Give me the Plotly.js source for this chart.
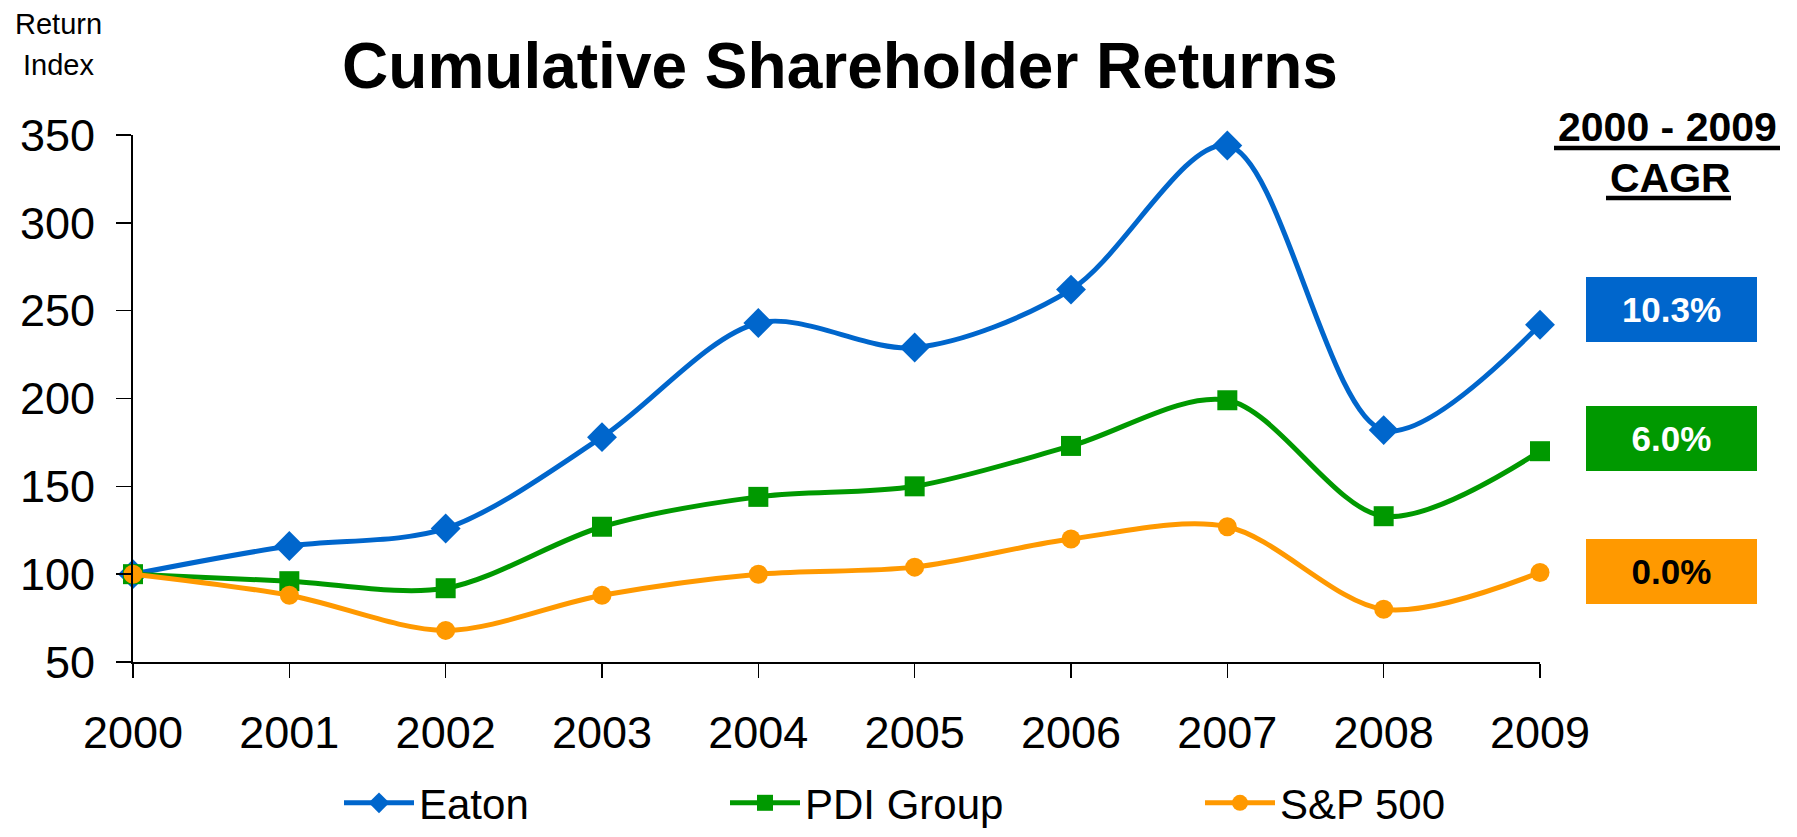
<!DOCTYPE html>
<html>
<head>
<meta charset="utf-8">
<script src="https://cdn.plot.ly/plotly-3.0.1.min.js"></script>
<style>
  html, body { margin: 0; padding: 0; background: #ffffff; }
  #chart { width: 1797px; height: 837px; }
</style>
</head>
<body>
<div id="chart"></div>
<script>
// ---- Data ----
const years = [2000, 2001, 2002, 2003, 2004, 2005, 2006, 2007, 2008, 2009];
const eaton = [100, 116, 126, 178, 243, 229, 262, 344, 182, 242];
const pdiGroup = [100, 96, 92, 127, 144, 150, 173, 199, 133, 170];
const sp500 = [100, 88, 68, 88, 100, 104, 120, 127, 80, 101];

const seriesNames = ['Eaton', 'PDI Group', 'S&P 500'];
const cagrLabels = ['10.3%', '6.0%', '0.0%'];
const cagrHeader = ['2000 - 2009', 'CAGR'];
const yAxisLabel = ['Return', 'Index'];
const chartTitle = 'Cumulative Shareholder Returns';

// ---- Styles ----
const FONT = '"Liberation Sans", Arial, Helvetica, sans-serif';
const BLUE = '#0066CC', GREEN = '#009900', ORANGE = '#FF9900';

function lineTrace(y, name, color, symbol, size, legendId) {
  return {
    x: years, y: y, name: name, type: 'scatter', mode: 'lines+markers',
    line: { color: color, width: 5, shape: 'spline', smoothing: 0.9 },
    marker: { color: color, symbol: symbol, size: size },
    cliponaxis: false,
    legend: legendId
  };
}

const traces = [
  lineTrace(eaton, seriesNames[0], BLUE, 'diamond', 23, 'legend'),
  lineTrace(pdiGroup, seriesNames[1], GREEN, 'square', 20, 'legend2'),
  lineTrace(sp500, seriesNames[2], ORANGE, 'circle', 19, 'legend3')
];

const axisCommon = {
  showgrid: false, zeroline: false, color: '#000000',
  tickfont: { family: FONT, size: 45, color: '#000000' }
};

function legendAt(xpx) {
  return {
    x: xpx / 1797, xref: 'container', xanchor: 'left',
    y: -6 / 837, yref: 'container', yanchor: 'bottom',
    orientation: 'h', bgcolor: 'rgba(0,0,0,0)', borderwidth: 0,
    font: { family: FONT, size: 42, color: '#000000' },
    itemwidth: 70, tracegroupgap: 0
  };
}

const boxY = [0.669, 0.425, 0.1717];
const boxColors = [BLUE, GREEN, ORANGE];
const boxTextColors = ['#ffffff', '#ffffff', '#000000'];

const annotations = [];
for (let i = 0; i < cagrLabels.length; i++) {
  annotations.push({
    text: '<b>' + cagrLabels[i] + '</b>',
    xref: 'paper', yref: 'paper', x: (1671 - 133) / 1407, y: boxY[i],
    xanchor: 'center', yanchor: 'middle', showarrow: false,
    width: 171, height: 65, borderpad: 0, borderwidth: 0,
    bgcolor: boxColors[i],
    font: { family: FONT, size: 35, color: boxTextColors[i] }
  });
}
// CAGR header
annotations.push({
  text: '<b>' + cagrHeader[0] + '</b>', xref: 'paper', yref: 'paper',
  x: (1667 - 133) / 1407, y: (662 - 127) / 527, xanchor: 'center', yanchor: 'middle',
  showarrow: false, font: { family: FONT, size: 41, color: '#000000' }
});
annotations.push({
  text: '<b>' + cagrHeader[1] + '</b>', xref: 'paper', yref: 'paper',
  x: (1670 - 133) / 1407, y: (662 - 178) / 527, xanchor: 'center', yanchor: 'middle',
  showarrow: false, font: { family: FONT, size: 41, color: '#000000' }
});
// Y-axis label "Return Index"
annotations.push({
  text: yAxisLabel[0], xref: 'paper', yref: 'paper',
  x: (58 - 133) / 1407, y: (662 - 24) / 527, xanchor: 'center', yanchor: 'middle',
  showarrow: false, font: { family: FONT, size: 29, color: '#000000' }
});
annotations.push({
  text: yAxisLabel[1], xref: 'paper', yref: 'paper',
  x: (58 - 133) / 1407, y: (662 - 65) / 527, xanchor: 'center', yanchor: 'middle',
  showarrow: false, font: { family: FONT, size: 29, color: '#000000' }
});

const shapes = [
  { type: 'line', xref: 'paper', yref: 'paper',
    x0: (1554 - 133) / 1407, x1: (1780 - 133) / 1407,
    y0: (662 - 148) / 527, y1: (662 - 148) / 527,
    line: { color: '#000000', width: 4.5 } },
  { type: 'line', xref: 'paper', yref: 'paper',
    x0: (1606 - 133) / 1407, x1: (1731 - 133) / 1407,
    y0: (662 - 198) / 527, y1: (662 - 198) / 527,
    line: { color: '#000000', width: 4.5 } }
];

const layout = {
  width: 1797, height: 837,
  margin: { l: 133, r: 257, t: 135, b: 175, pad: 0 },
  paper_bgcolor: '#ffffff', plot_bgcolor: '#ffffff',
  font: { family: FONT, color: '#000000' },
  title: {
    text: '<b>' + chartTitle + '</b>',
    x: 840 / 1797, xref: 'container', xanchor: 'center',
    y: 1 - 66 / 837, yref: 'container', yanchor: 'middle',
    font: { family: FONT, size: 64, color: '#000000' }
  },
  xaxis: Object.assign({}, axisCommon, {
    range: [2000, 2009], tickmode: 'linear', tick0: 2000, dtick: 1,
    ticks: 'outside', ticklen: 14, tickwidth: 1.5, tickcolor: '#000000',
    showline: true, linewidth: 2, linecolor: '#000000',
    ticklabelstandoff: 16
  }),
  xaxis2: {
    overlaying: 'x', anchor: 'y', range: [2000, 2009], tickmode: 'linear', tick0: 2000, dtick: 1,
    ticks: 'inside', ticklen: 14, tickwidth: 1.5, tickcolor: '#000000',
    showticklabels: false, showline: false, showgrid: false, zeroline: false
  },
  yaxis: Object.assign({}, axisCommon, {
    range: [50, 350], tickmode: 'linear', tick0: 50, dtick: 50,
    ticks: 'outside', ticklen: 15, tickwidth: 1.5, tickcolor: '#000000',
    showline: true, linewidth: 2, linecolor: '#000000',
    ticklabelstandoff: 12
  }),
  yaxis2: {
    overlaying: 'y', anchor: 'x', range: [50, 350], tickmode: 'linear', tick0: 50, dtick: 50,
    ticks: 'inside', ticklen: 15, tickwidth: 1.5, tickcolor: '#000000',
    showticklabels: false, showline: false, showgrid: false, zeroline: false
  },
  legend: legendAt(339),
  legend2: legendAt(725),
  legend3: legendAt(1200),
  annotations: annotations,
  shapes: shapes,
  showlegend: true
};

Plotly.newPlot('chart', traces, layout, { displayModeBar: false, staticPlot: true });
</script>
</body>
</html>
